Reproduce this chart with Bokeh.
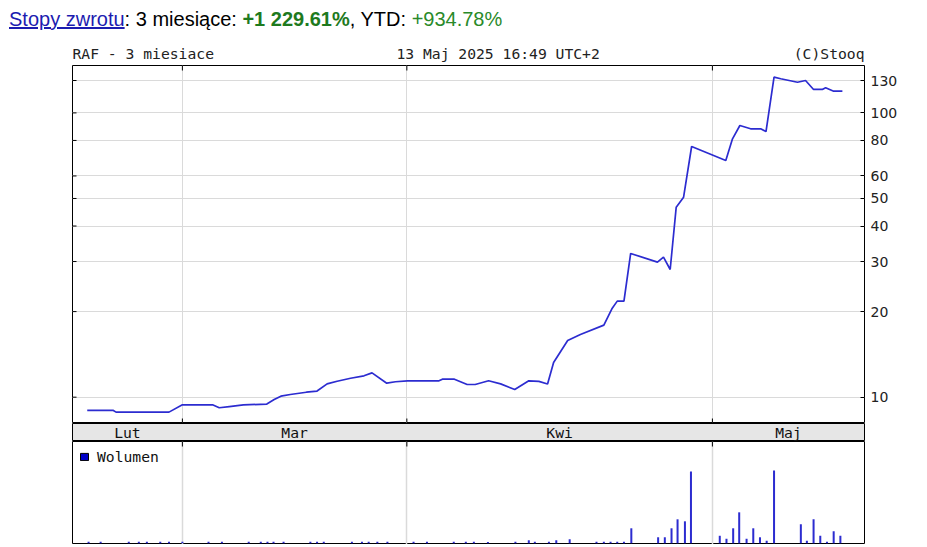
import math
from bokeh.plotting import figure
from bokeh.models import (Range1d, FixedTicker, PrintfTickFormatter, Grid,
                          Legend, LegendItem, Div)
from bokeh.layouts import column
from bokeh.core.properties import value
from bokeh.embed import file_html
from bokeh.resources import INLINE

# ---------------- data ----------------
ticker_name = "RAF"
period_label = "3 miesiace"
stamp = "13 Maj 2025 16:49 UTC+2"
copyright_txt = "(C)Stooq"
ret_3m = "+1 229.61%"
ret_ytd = "+934.78%"

month_labels = ["Lut", "Mar", "Kwi", "Maj"]
month_bounds = [16.4, 49.9, 95.5]      # session-axis positions where a new month starts
x_span = 118.2                         # length of the session axis shown

price_x = [2.2, 6.1, 6.5, 14.4, 16.4, 20.9, 21.9, 23.4, 25.5, 29.0, 30.1, 31.1, 32.5, 34.9,
           36.5, 38.0, 39.5, 41.5, 43.5, 44.7, 46.9, 48.2, 50.0, 54.7, 55.2, 57.0, 58.9,
           60.1, 62.1, 63.9, 66.0, 68.1, 69.6, 70.9, 71.8, 73.9, 75.8, 79.3, 80.5, 81.3,
           82.3, 83.3, 87.3, 88.2, 89.2, 90.1, 91.2, 92.4, 97.5, 98.5, 99.6, 101.2, 102.7,
           103.5, 104.7, 105.7, 108.2, 109.4, 110.6, 111.9, 112.4, 113.6, 114.9]
price_y = [8.98, 8.98, 8.86, 8.86, 9.40, 9.40, 9.18, 9.27, 9.39, 9.46, 9.81, 10.08, 10.22,
           10.41, 10.51, 11.14, 11.38, 11.66, 11.89, 12.18, 11.20, 11.33, 11.42, 11.42,
           11.57, 11.57, 11.08, 11.08, 11.42, 11.14, 10.64, 11.42, 11.36, 11.13, 13.25,
           15.83, 16.62, 17.92, 20.46, 21.77, 21.77, 32.03, 29.85, 31.08, 28.13, 46.59,
           50.52, 76.17, 68.02, 81.05, 90.30, 87.92, 87.92, 86.01, 133.6, 131.9, 128.2,
           130.0, 120.9, 120.9, 122.6, 119.2, 119.2]

vol_x = [2.4, 4.2, 8.4, 9.9, 11.1, 13.1, 14.4, 16.4, 20.3, 22.3, 26.3, 28.1, 29.1, 30.0,
         31.5, 35.5, 36.5, 37.5, 41.7, 43.2, 44.2, 45.5, 47.0, 50.9, 52.9, 56.9, 58.7, 59.9,
         62.0, 66.1, 68.1, 69.0, 71.1, 72.2, 74.2, 78.2, 79.3, 80.3, 81.3, 82.3, 83.4, 87.4,
         88.4, 89.4, 90.3, 91.4, 92.3, 96.6, 97.6, 98.6, 99.5, 100.6, 101.6, 102.6, 103.6,
         104.7, 108.7, 109.6, 110.6, 111.6, 112.6, 113.6, 114.6]
vol_y = [3.0, 3.0, 3.0, 3.0, 3.0, 3.0, 3.0, 3.0, 3.0, 3.0, 3.0, 3.0, 3.0, 3.0,
         3.0, 3.0, 3.0, 3.0, 3.0, 3.0, 3.0, 3.0, 3.0, 3.0, 3.0, 3.0, 3.0, 3.0,
         2.5, 3.0, 6.0, 3.0, 3.0, 6.0, 8.0, 3.0, 3.0, 3.0, 3.0, 3.0, 30.0, 12.0,
         12.0, 30.0, 48.0, 44.0, 144.0, 15.0, 9.0, 30.0, 62.0, 9.0, 30.0, 12.0, 5.0,
         146.0, 38.0, 5.0, 48.0, 15.0, 3.0, 24.0, 15.0]

y_ticks = [10, 20, 30, 40, 50, 60, 80, 100, 130]
y_lo, y_hi = 8.08, 146.8
vol_lo, vol_hi = -2.5, 204

# ---------------- style ----------------
MONO = "DejaVu Sans Mono"
MONO_SIZE = "14.7px"
LINE_BLUE = "#2c2cd0"
GRID = "#dadada"
FW = 792
BL, BR = 72, 47

common = dict(frame_width=FW, min_border=0, min_border_left=BL, min_border_right=BR,
              output_backend="svg", toolbar_location=None)

xr = Range1d(0, x_span)


def hide_grids(fig, dims=(0, 1)):
    for g in fig.grid:
        if g.dimension in dims:
            g.visible = False


def ticks(fig, xs, ys, length, angle):
    fig.ray(x=xs, y=ys, length=length, length_units="screen", angle=angle,
            line_color="#000000", line_width=1)


# title line (HTML)
title_html = (
    '<div style="font-family:\'Liberation Sans\',Arial,sans-serif;font-size:20px;'
    'line-height:normal;color:#000;white-space:nowrap;padding-left:9px;padding-top:8px">'
    '<a href="#" style="color:#1c1cb0;text-decoration:underline">Stopy zwrotu</a>'
    ': 3 miesiące: '
    f'<b style="color:#1e7a1e">{ret_3m}</b>, YTD: '
    f'<span style="color:#2a8a2a">{ret_ytd}</span></div>'
)
title_div = Div(text=title_html, width=BL + FW + BR, height=42, margin=(0, 0, 0, 0))

# header row above the chart
hdr = figure(frame_height=23, x_range=Range1d(0, 1), y_range=Range1d(0, 1),
             x_axis_location=None, y_axis_location=None, outline_line_color=None, **common)
hide_grids(hdr)
txt_kw = dict(text_font=value(MONO), text_font_size=MONO_SIZE, text_color="#222222",
              text_baseline="middle")
hdr.text(x=[0], y=[0.52], text=[f"{ticker_name} - {period_label}"], text_align="left", **txt_kw)
hdr.text(x=[0.409], y=[0.52], text=[stamp], text_align="left", **txt_kw)
hdr.text(x=[1.0], y=[0.52], text=[copyright_txt], text_align="right", **txt_kw)

# main price chart
main = figure(frame_height=358, x_range=xr, y_range=Range1d(y_lo, y_hi), y_axis_type="log",
              y_axis_location="right", x_axis_location=None,
              outline_line_color="#000000", outline_line_width=1, **common)
hide_grids(main, dims=(0,))
main.add_layout(Grid(dimension=0, ticker=FixedTicker(ticks=month_bounds),
                     grid_line_color=GRID))
main.line(price_x, price_y, line_color=LINE_BLUE, line_width=1.7)

ry = main.yaxis[0]
ry.ticker = FixedTicker(ticks=y_ticks)
ry.formatter = PrintfTickFormatter(format="%d")
ry.major_tick_in = 4
ry.major_tick_out = 0
ry.minor_tick_line_color = None
ry.axis_line_color = None
ry.major_tick_line_color = "#000000"
ry.major_label_standoff = 6
ry.major_label_text_font = "DejaVu Sans"
ry.major_label_text_font_size = "14px"
ry.major_label_text_color = "#222222"
main.ygrid.grid_line_color = GRID

nb = len(month_bounds)
ticks(main, month_bounds, [y_hi] * nb, 5, -math.pi / 2)      # top edge, month starts
ticks(main, month_bounds, [y_lo] * nb, 5, math.pi / 2)       # bottom edge, month starts
ticks(main, [0] * len(y_ticks), y_ticks, 4, 0)               # left edge, price levels

# month band
band = figure(frame_height=18, x_range=xr, y_range=Range1d(0, 1), x_axis_location=None,
              y_axis_location=None, background_fill_color="#e6e6e6",
              outline_line_color="#000000", **common)
hide_grids(band)
edges = [0] + month_bounds + [x_span]
centers = [(a + b) / 2 for a, b in zip(edges[:-1], edges[1:])]
band.text(x=centers, y=[0.5] * len(centers), text=month_labels, text_align="center",
          text_font=value(MONO), text_font_size=MONO_SIZE, text_color="#111111",
          text_baseline="middle")

# volume panel
vol = figure(frame_height=103, x_range=xr, y_range=Range1d(vol_lo, vol_hi),
             x_axis_location=None, y_axis_location=None, outline_line_color="#000000",
             **common)
hide_grids(vol)
vol.add_layout(Grid(dimension=0, ticker=FixedTicker(ticks=month_bounds),
                    grid_line_color=GRID, grid_line_width=1.5))
vol.vbar(x=vol_x, top=vol_y, bottom=0, width=0.3, fill_color=LINE_BLUE, line_color=None)
ticks(vol, month_bounds, [vol_hi] * nb, 5, -math.pi / 2)
leg_r = vol.vbar(x=vol_x, top=vol_y, bottom=0, width=0.3, fill_color="#0000c8",
                 line_color="#000000", line_width=1, visible=False)
legend = Legend(items=[LegendItem(label=value("Wolumen"), renderers=[leg_r])],
                location="top_left", margin=0, padding=7, spacing=0,
                glyph_width=10, glyph_height=9, label_standoff=8, label_height=9,
                label_text_font=MONO, label_text_font_size=MONO_SIZE,
                label_text_color="#111111", inactive_fill_alpha=0,
                background_fill_alpha=0, border_line_alpha=0)
vol.add_layout(legend)

layout = column(title_div, hdr, main, band, vol, spacing=0)

open("out.html", "w").write(file_html(layout, INLINE))
